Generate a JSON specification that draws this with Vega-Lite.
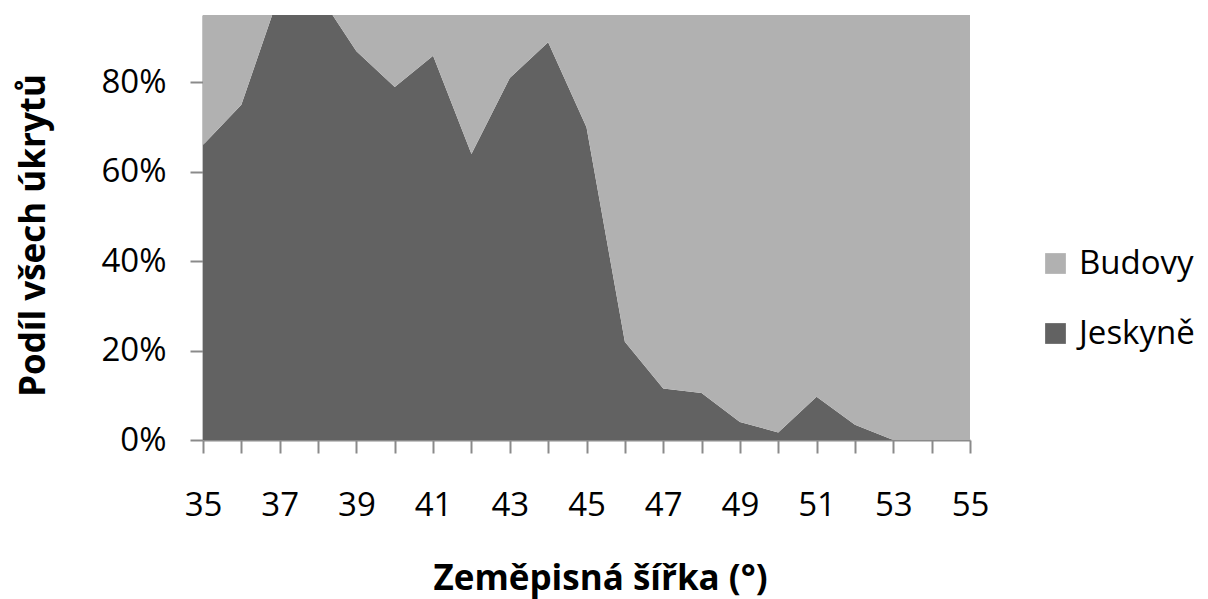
{
  "$schema": "https://vega.github.io/schema/vega-lite/v6.json",
  "autosize": "none",
  "width": 767,
  "height": 425,
  "padding": {"left": 203, "top": 15, "right": 238, "bottom": 159},
  "background": "white",
  "config": {"view": {"stroke": null}, "font": "Open Sans"},
  "data": {"values": [
    {"sirka": 35, "typ": "Jeskyně", "podil": 0.66}, {"sirka": 35, "typ": "Budovy", "podil": 0.34},
    {"sirka": 36, "typ": "Jeskyně", "podil": 0.75}, {"sirka": 36, "typ": "Budovy", "podil": 0.25},
    {"sirka": 37, "typ": "Jeskyně", "podil": 1.0}, {"sirka": 37, "typ": "Budovy", "podil": 0.0},
    {"sirka": 38, "typ": "Jeskyně", "podil": 1.0}, {"sirka": 38, "typ": "Budovy", "podil": 0.0},
    {"sirka": 39, "typ": "Jeskyně", "podil": 0.87}, {"sirka": 39, "typ": "Budovy", "podil": 0.13},
    {"sirka": 40, "typ": "Jeskyně", "podil": 0.79}, {"sirka": 40, "typ": "Budovy", "podil": 0.21},
    {"sirka": 41, "typ": "Jeskyně", "podil": 0.86}, {"sirka": 41, "typ": "Budovy", "podil": 0.14},
    {"sirka": 42, "typ": "Jeskyně", "podil": 0.64}, {"sirka": 42, "typ": "Budovy", "podil": 0.36},
    {"sirka": 43, "typ": "Jeskyně", "podil": 0.81}, {"sirka": 43, "typ": "Budovy", "podil": 0.19},
    {"sirka": 44, "typ": "Jeskyně", "podil": 0.89}, {"sirka": 44, "typ": "Budovy", "podil": 0.11},
    {"sirka": 45, "typ": "Jeskyně", "podil": 0.70}, {"sirka": 45, "typ": "Budovy", "podil": 0.30},
    {"sirka": 46, "typ": "Jeskyně", "podil": 0.22}, {"sirka": 46, "typ": "Budovy", "podil": 0.78},
    {"sirka": 47, "typ": "Jeskyně", "podil": 0.115}, {"sirka": 47, "typ": "Budovy", "podil": 0.885},
    {"sirka": 48, "typ": "Jeskyně", "podil": 0.105}, {"sirka": 48, "typ": "Budovy", "podil": 0.895},
    {"sirka": 49, "typ": "Jeskyně", "podil": 0.04}, {"sirka": 49, "typ": "Budovy", "podil": 0.96},
    {"sirka": 50, "typ": "Jeskyně", "podil": 0.017}, {"sirka": 50, "typ": "Budovy", "podil": 0.983},
    {"sirka": 51, "typ": "Jeskyně", "podil": 0.097}, {"sirka": 51, "typ": "Budovy", "podil": 0.903},
    {"sirka": 52, "typ": "Jeskyně", "podil": 0.034}, {"sirka": 52, "typ": "Budovy", "podil": 0.966},
    {"sirka": 53, "typ": "Jeskyně", "podil": 0.0}, {"sirka": 53, "typ": "Budovy", "podil": 1.0},
    {"sirka": 54, "typ": "Jeskyně", "podil": 0.0}, {"sirka": 54, "typ": "Budovy", "podil": 1.0},
    {"sirka": 55, "typ": "Jeskyně", "podil": 0.0}, {"sirka": 55, "typ": "Budovy", "podil": 1.0}
  ]},
  "mark": {"type": "area", "clip": true, "interpolate": "linear"},
  "encoding": {
    "x": {
      "field": "sirka", "type": "quantitative",
      "scale": {"domain": [35, 55], "nice": false, "zero": false},
      "axis": {
        "title": "Zeměpisná šířka (°)",
        "values": [35,36,37,38,39,40,41,42,43,44,45,46,47,48,49,50,51,52,53,54,55],
        "labelExpr": "datum.value % 2 == 1 ? datum.label : ''",
        "grid": false,
        "domainColor": "#8a8a8a", "domainWidth": 2,
        "tickColor": "#8a8a8a", "tickWidth": 2, "tickSize": 13,
        "labelFont": "Open Sans", "labelFontSize": 33, "labelColor": "#000000",
        "labelPadding": 36, "labelFlush": false, "labelOverlap": false,
        "titleFont": "Open Sans", "titleFontSize": 35, "titleFontWeight": "bold", "titleColor": "#000000",
        "titleX": 397, "titleY": 138, "titleBaseline": "middle"
      }
    },
    "y": {
      "field": "podil", "type": "quantitative", "stack": "zero",
      "scale": {"domain": [0, 0.951], "nice": false},
      "axis": {
        "title": "Podíl všech úkrytů",
        "values": [0, 0.2, 0.4, 0.6, 0.8],
        "format": ".0%",
        "grid": false,
        "domainColor": "#8a8a8a", "domainWidth": 2,
        "tickColor": "#8a8a8a", "tickWidth": 2, "tickSize": 13,
        "labelFont": "Open Sans", "labelFontSize": 33, "labelColor": "#000000",
        "labelPadding": 24,
        "titleFont": "Open Sans", "titleFontSize": 35, "titleFontWeight": "bold", "titleColor": "#000000",
        "titleX": -170, "titleY": 220, "titleBaseline": "middle", "titleAngle": -90
      }
    },
    "color": {
      "field": "typ", "type": "nominal",
      "scale": {"domain": ["Budovy", "Jeskyně"], "range": ["#b1b1b1", "#626262"]},
      "legend": {
        "title": null, "orient": "none", "legendX": 836, "legendY": 232,
        "symbolType": "square", "symbolSize": 430, "symbolStrokeWidth": 0,
        "labelFont": "Open Sans", "labelFontSize": 33, "labelColor": "#000000",
        "labelOffset": 7, "rowPadding": 36, "symbolOpacity": 1
      }
    },
    "order": {"field": "typ", "sort": "descending"}
  }
}
